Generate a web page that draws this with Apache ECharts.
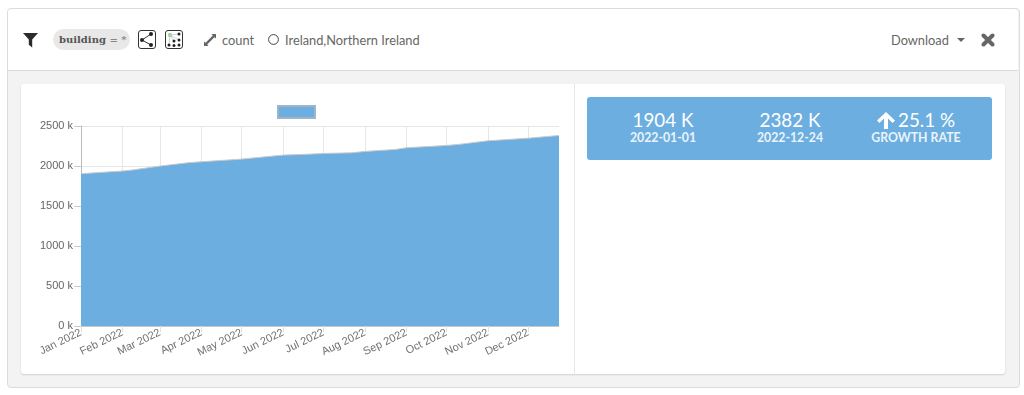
<!DOCTYPE html>
<html>
<head>
<meta charset="utf-8">
<script src="https://cdn.jsdelivr.net/npm/echarts@6/dist/echarts.min.js"></script>
<style>
  html, body { margin: 0; padding: 0; width: 1024px; height: 395px; background: #fff; overflow: hidden; }
  body { font-family: Lato, sans-serif; color: #555; position: relative; }
  .abs { position: absolute; white-space: nowrap; }
  .panel { left: 7px; top: 8px; width: 1011px; height: 378px; border: 1px solid #dcdcdc; border-radius: 4px; background: #f3f3f3; }
  .head { left: 8px; top: 9px; width: 1010px; height: 61px; background: #fff; border-bottom: 1px solid #d9d9d9; border-radius: 4px 4px 0 0; }
  .card { left: 21px; top: 84px; width: 984px; height: 290px; background: #fff; border-radius: 3px; box-shadow: 0 1px 2px rgba(0, 0, 0, 0.14); }
  .divider { left: 574px; top: 84px; width: 1px; height: 291px; background: #e6e6e6; }
  #chart { left: 21px; top: 84px; width: 553px; height: 291px; }
  .pill { left: 53px; top: 29px; width: 77px; height: 21px; background: #e8e8e8; border-radius: 11px; }
  .pill-text { left: 59px; top: 32px; font: bold 10px/15px "DejaVu Serif", serif; color: #555; }
  .pill-text span { color: #888; }
  .t13 { font-size: 12.8px; line-height: 16px; color: #666; top: 32px; }
  .stat { left: 587px; top: 97px; width: 405px; height: 63px; background: #6daee0; border-radius: 3px; }
  .big, .small { color: #fff; text-align: center; width: 120px; }
  .big { font-size: 18.8px; line-height: 24px; top: 108px; }
  .small { font-size: 12.3px; line-height: 16px; top: 130px; font-weight: 700; color: #eaf4fb; }
</style>
</head>
<body>
<div class="abs panel"></div>
<div class="abs head"></div>

<svg class="abs" style="left:23px;top:33px" width="15" height="15" viewBox="0 0 15 15"><path d="M0 0H15L9.2 6.6V14.5L5.8 11.8V6.6Z" fill="#2b2b2b"/></svg>
<div class="abs pill"></div>
<div class="abs pill-text">building <span>= *</span></div>
<svg class="abs" style="left:138px;top:30px" width="18" height="19" viewBox="0 0 18 19">
  <rect x="0.5" y="0.5" width="17" height="18" rx="2.5" fill="#fff" stroke="#333"/>
  <path d="M13 4L4 10L13 15" fill="none" stroke="#333"/>
  <circle cx="13" cy="4" r="2" fill="#222"/><circle cx="4" cy="10" r="2" fill="#222"/><circle cx="13" cy="15" r="2" fill="#222"/>
</svg>
<svg class="abs" style="left:165px;top:30px" width="18" height="19" viewBox="0 0 18 19">
  <rect x="0.5" y="0.5" width="17" height="18" rx="2.5" fill="#fff" stroke="#333"/>
  <path d="M5 5L14 4M5 5L14 10M5 5L9 11M5 5L4 15" stroke="#bbb" stroke-width="0.7"/>
  <circle cx="5" cy="5" r="2.2" fill="#a5d6a7"/><circle cx="14" cy="4" r="1.5" fill="#222"/><circle cx="14" cy="10" r="1.5" fill="#222"/>
  <circle cx="9" cy="11" r="1.5" fill="#222"/><circle cx="4" cy="15" r="1.5" fill="#222"/><circle cx="9" cy="15.5" r="1.5" fill="#222"/><circle cx="14" cy="15" r="1.5" fill="#222"/>
</svg>
<svg class="abs" style="left:204px;top:34px" width="12" height="12" viewBox="0 0 12 12"><path d="M7.5 0H12V4.5L10.4 3.2L3.2 10.4L4.5 12H0V7.5L1.6 8.8L8.8 1.6Z" fill="#666"/></svg>
<div class="abs t13" style="left:222px">count</div>
<svg class="abs" style="left:267px;top:33px" width="13" height="13" viewBox="0 0 13 13"><circle cx="6.5" cy="6.5" r="4.9" fill="none" stroke="#444" stroke-width="1"/></svg>
<div class="abs t13" style="left:285px">Ireland,Northern Ireland</div>
<div class="abs t13" style="left:891px">Download</div>
<svg class="abs" style="left:957px;top:38px" width="8" height="4" viewBox="0 0 8 4"><path d="M0 0H8L4 4Z" fill="#666"/></svg>
<svg class="abs" style="left:981px;top:33px" width="14" height="14" viewBox="0 0 14 14"><path d="M2.5 2.5L11.5 11.5M11.5 2.5L2.5 11.5" stroke="#666" stroke-width="4" stroke-linecap="round"/></svg>

<div class="abs card"></div>
<div class="abs divider"></div>
<div class="abs" id="chart"></div>

<div class="abs stat"></div>
<div class="abs big" style="left:603px">1904 K</div>
<div class="abs small" style="left:603px">2022-01-01</div>
<div class="abs big" style="left:730px">2382 K</div>
<div class="abs small" style="left:730px">2022-12-24</div>
<div class="abs big" style="left:856px"><svg width="18" height="17" viewBox="0 0 18 17" style="vertical-align:-2px;margin-right:3px"><path d="M9 0L18 8.5L15.6 11L11 6.6V17H7V6.6L2.4 11L0 8.5Z" fill="#fff"/></svg>25.1 %</div>
<div class="abs small" style="left:856px">GROWTH RATE</div>

<script>
const dates = [
  '2022-01-01', '2022-02-01', '2022-02-08', '2022-03-01', '2022-03-22', '2022-04-01',
  '2022-05-01', '2022-06-01', '2022-06-20', '2022-07-01', '2022-07-22', '2022-08-01',
  '2022-08-24', '2022-09-01', '2022-10-01', '2022-10-10', '2022-11-01', '2022-12-01', '2022-12-24'
];
const counts = [
  1904, 1937, 1949, 1999, 2041, 2053,
  2086, 2136, 2148, 2157, 2165, 2182,
  2207, 2228, 2257, 2270, 2315, 2348, 2382
];
const monthTicks = [
  '2022-01-01', '2022-02-01', '2022-03-01', '2022-04-01', '2022-05-01', '2022-06-01',
  '2022-07-01', '2022-08-01', '2022-09-01', '2022-10-01', '2022-11-01', '2022-12-01'
];
const monthNames = ['Jan', 'Feb', 'Mar', 'Apr', 'May', 'Jun', 'Jul', 'Aug', 'Sep', 'Oct', 'Nov', 'Dec'];

const toTime = (s) => {
  const [y, m, d] = s.split('-').map(Number);
  return new Date(y, m - 1, d).getTime();
};

const myChart = echarts.init(document.getElementById('chart'), null, { renderer: 'canvas' });
myChart.setOption({
  animation: false,
  legend: {
    show: true,
    left: 256,
    top: 21,
    padding: 0,
    itemWidth: 37,
    itemHeight: 12,
    icon: 'rect',
    formatter: () => '',
    data: [' ']
  },
  grid: { left: 60, right: 15, top: 42, bottom: 49 },
  xAxis: {
    // value axis over timestamps: the time axis throws on customValues here
    type: 'value',
    min: toTime(dates[0]),
    max: toTime(dates[dates.length - 1]),
    axisLine: { lineStyle: { color: '#c8c8c8' } },
    axisTick: { show: true, length: 6, customValues: monthTicks.map(toTime), lineStyle: { color: '#e0e0e0' } },
    splitLine: { show: true, lineStyle: { color: '#e6e6e6' } },
    axisLabel: {
      customValues: monthTicks.map(toTime),
      rotate: 26,
      margin: 6,
      color: '#707070',
      fontFamily: 'Liberation Sans',
      fontSize: 11,
      hideOverlap: false,
      formatter: (value) => {
        const d = new Date(value);
        return `${monthNames[d.getMonth()]} ${d.getFullYear()}`;
      }
    }
  },
  yAxis: {
    type: 'value',
    min: 0,
    max: 2500,
    interval: 500,
    axisLine: { show: true, lineStyle: { color: '#bbb' } },
    axisTick: { show: true, length: 7, lineStyle: { color: '#ccc' } },
    splitLine: { show: true, lineStyle: { color: '#e6e6e6' } },
    axisLabel: {
      margin: 8,
      color: '#666',
      fontFamily: 'Liberation Sans',
      fontSize: 11,
      formatter: (value) => `${value} k`
    }
  },
  series: [
    {
      name: ' ',
      type: 'line',
      data: dates.map((d, i) => [toTime(d), counts[i]]),
      showSymbol: false,
      lineStyle: { color: '#c9c9c9', width: 1 },
      itemStyle: { color: '#6daee0', borderColor: '#9fb4c6', borderWidth: 1 },
      areaStyle: { color: '#6daee0', opacity: 1 }
    }
  ]
});
</script>
</body>
</html>
